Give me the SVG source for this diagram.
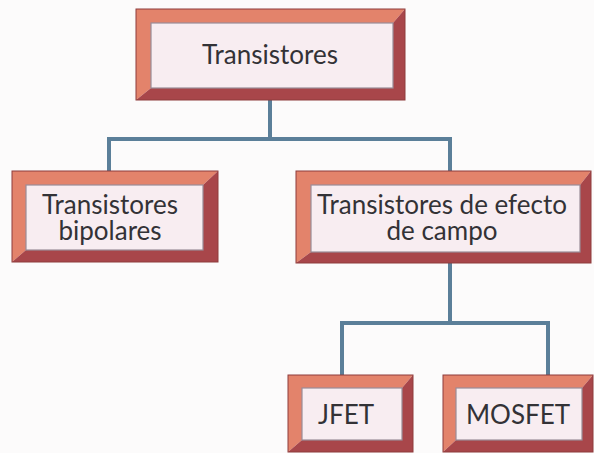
<svg xmlns="http://www.w3.org/2000/svg" width="594" height="453" viewBox="0 0 594 453">
<style>
.light{fill:#e3836b}
.dark{fill:#a8464a}
.edge{fill:none;stroke:#8e3c3c;stroke-width:1}
.panel{fill:#f8edf1;stroke:#9a8c98;stroke-width:1.2}
.t{font-family:"Lato","Open Sans","Liberation Sans",sans-serif;font-size:26px;fill:#333236;text-anchor:middle}
.c{fill:none;stroke:#5b7f99;stroke-width:4;stroke-linejoin:miter}
</style>
<rect width="594" height="453" fill="#fcfbfb"/>
<g id="connectors">
<path class="c" d="M270 100 V139 M109 171 V139 H450 V171"/>
<path class="c" d="M450 263 V323 M342 375 V323 H548 V375"/>
</g>
<g id="n-transistores">
<polygon class="light" points="136,9 405,9 393,23 151,23 151,88 136,100"/>
<polygon class="dark" points="405,9 405,100 136,100 151,88 393,88 393,23"/>
<rect class="edge" x="136" y="9" width="269" height="91"/>
<rect class="panel" x="151" y="23" width="242" height="65"/>
<text class="t" x="270" y="64">Transistores</text>
</g>
<g id="n-bipolares">
<polygon class="light" points="12,171 218,171 203,185 26,185 26,250 12,262"/>
<polygon class="dark" points="218,171 218,262 12,262 26,250 203,250 203,185"/>
<rect class="edge" x="12" y="171" width="206" height="91"/>
<rect class="panel" x="26" y="185" width="177" height="65"/>
<text class="t" x="110" y="214"><tspan x="110">Transistores</tspan><tspan x="110" dy="26">bipolares</tspan></text>
</g>
<g id="n-efecto">
<polygon class="light" points="296,171 591,171 580,185 311,185 311,252 296,263"/>
<polygon class="dark" points="591,171 591,263 296,263 311,252 580,252 580,185"/>
<rect class="edge" x="296" y="171" width="295" height="92"/>
<rect class="panel" x="311" y="185" width="269" height="67"/>
<text class="t" x="442" y="214"><tspan x="442">Transistores de efecto</tspan><tspan x="442" dy="26">de campo</tspan></text>
</g>
<g id="n-jfet">
<polygon class="light" points="288,375 413,375 402,388 302,388 302,440 288,452"/>
<polygon class="dark" points="413,375 413,452 288,452 302,440 402,440 402,388"/>
<rect class="edge" x="288" y="375" width="125" height="77"/>
<rect class="panel" x="302" y="388" width="100" height="52"/>
<text class="t" x="346" y="424">JFET</text>
</g>
<g id="n-mosfet">
<polygon class="light" points="443,375 593,375 582,388 456,388 456,440 443,452"/>
<polygon class="dark" points="593,375 593,452 443,452 456,440 582,440 582,388"/>
<rect class="edge" x="443" y="375" width="150" height="77"/>
<rect class="panel" x="456" y="388" width="126" height="52"/>
<text class="t" x="518" y="424">MOSFET</text>
</g>
</svg>
